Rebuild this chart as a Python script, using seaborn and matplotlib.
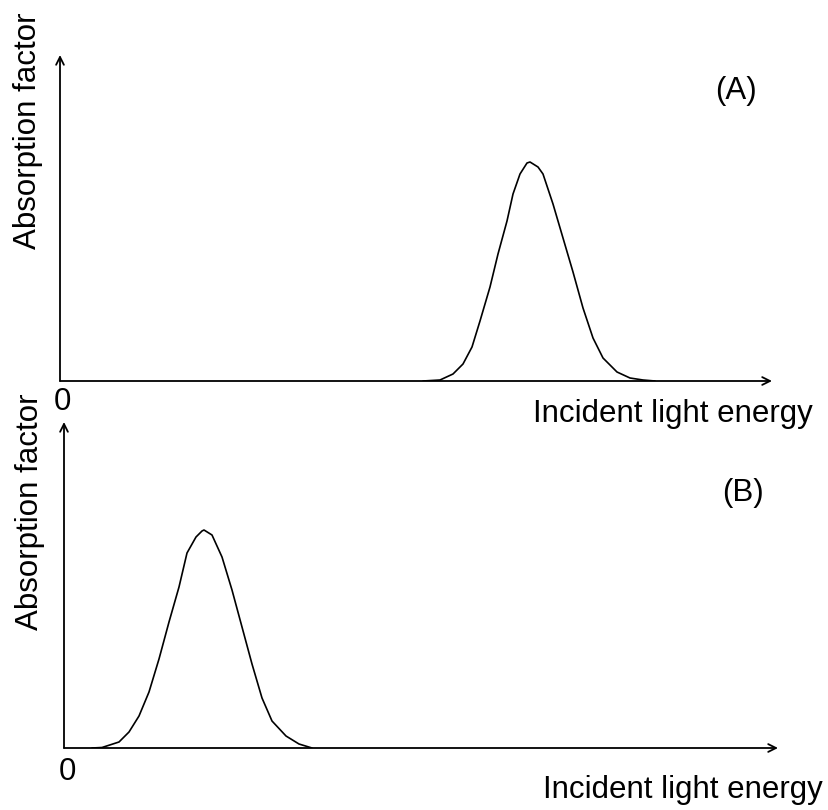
import matplotlib
matplotlib.use("Agg")
import matplotlib.pyplot as plt
import seaborn as sns

# curve points (x from origin, height above axis, in px)
energy_A = [363, 380, 393, 403, 412, 420, 430, 438, 447, 453, 460, 467, 470,
            478, 483, 493, 503, 513, 523, 533, 543, 557, 570, 583, 595]
absorb_A = [0, 1, 7, 17, 34, 60, 94, 127, 160, 187, 207, 218, 219,
            214, 207, 177, 143, 109, 73, 43, 23, 9, 3, 1, 0]

energy_B = [28, 38, 55, 65, 75, 85, 95, 105, 115, 123, 132, 138, 140,
            148, 158, 168, 178, 188, 198, 208, 222, 235, 248]
absorb_B = [0, 0.5, 6, 16, 32, 56, 89, 126, 161, 195, 211, 217, 218,
            213, 191, 158, 121, 84, 50, 27, 12, 4, 0]

x_label = "Incident light energy"
y_label = "Absorption factor"
panel_tags = ["(A)", "(B)"]

sns.set_style("white")
plt.rcParams['font.family'] = ['Liberation Sans', 'DejaVu Sans']
plt.rcParams['text.color'] = 'black'

W, H = 829, 810
fig = plt.figure(figsize=(W / 100, H / 100), dpi=100)

def fx(px):
    return px / W

def fy(py):
    return 1 - py / H

# origin px, axis length px (x, y)
panels = [
    dict(ox=60, oy=381, lx=712, ly=326, x=energy_A, y=absorb_A),
    dict(ox=64, oy=748, lx=714, ly=326, x=energy_B, y=absorb_B),
]

for p in panels:
    ax = fig.add_axes([fx(p["ox"]), fy(p["oy"]), p["lx"] / W, p["ly"] / H])
    ax.set_xlim(0, p["lx"])
    ax.set_ylim(0, p["ly"])
    ax.axis("off")
    sns.lineplot(x=p["x"], y=p["y"], ax=ax, color="black", linewidth=1.2,
                 sort=False, estimator=None)
    arrow = dict(arrowstyle="->", color="black", lw=1.3, mutation_scale=14,
                 shrinkA=0, shrinkB=0)
    ax.annotate("", xy=(p["lx"], 0), xytext=(0, 0), arrowprops=arrow,
                annotation_clip=False)
    ax.annotate("", xy=(0, p["ly"]), xytext=(0, 0), arrowprops=arrow,
                annotation_clip=False)

fs = 22.5
# panel A texts
fig.text(fx(28), fy(131), y_label, rotation=90, ha="center", va="center", fontsize=fs)
fig.text(fx(62), fy(410), "0", ha="center", va="baseline", fontsize=fs)
fig.text(fx(813), fy(422), x_label, ha="right", va="baseline", fontsize=fs)
fig.text(fx(736), fy(99), panel_tags[0], ha="center", va="baseline", fontsize=fs)

# panel B texts
fig.text(fx(30), fy(512), y_label, rotation=90, ha="center", va="center", fontsize=fs)
fig.text(fx(67), fy(780), "0", ha="center", va="baseline", fontsize=fs)
fig.text(fx(823), fy(798), x_label, ha="right", va="baseline", fontsize=fs)
fig.text(fx(743), fy(501), panel_tags[1], ha="center", va="baseline", fontsize=fs)

plt.savefig("out.png", dpi=100)
